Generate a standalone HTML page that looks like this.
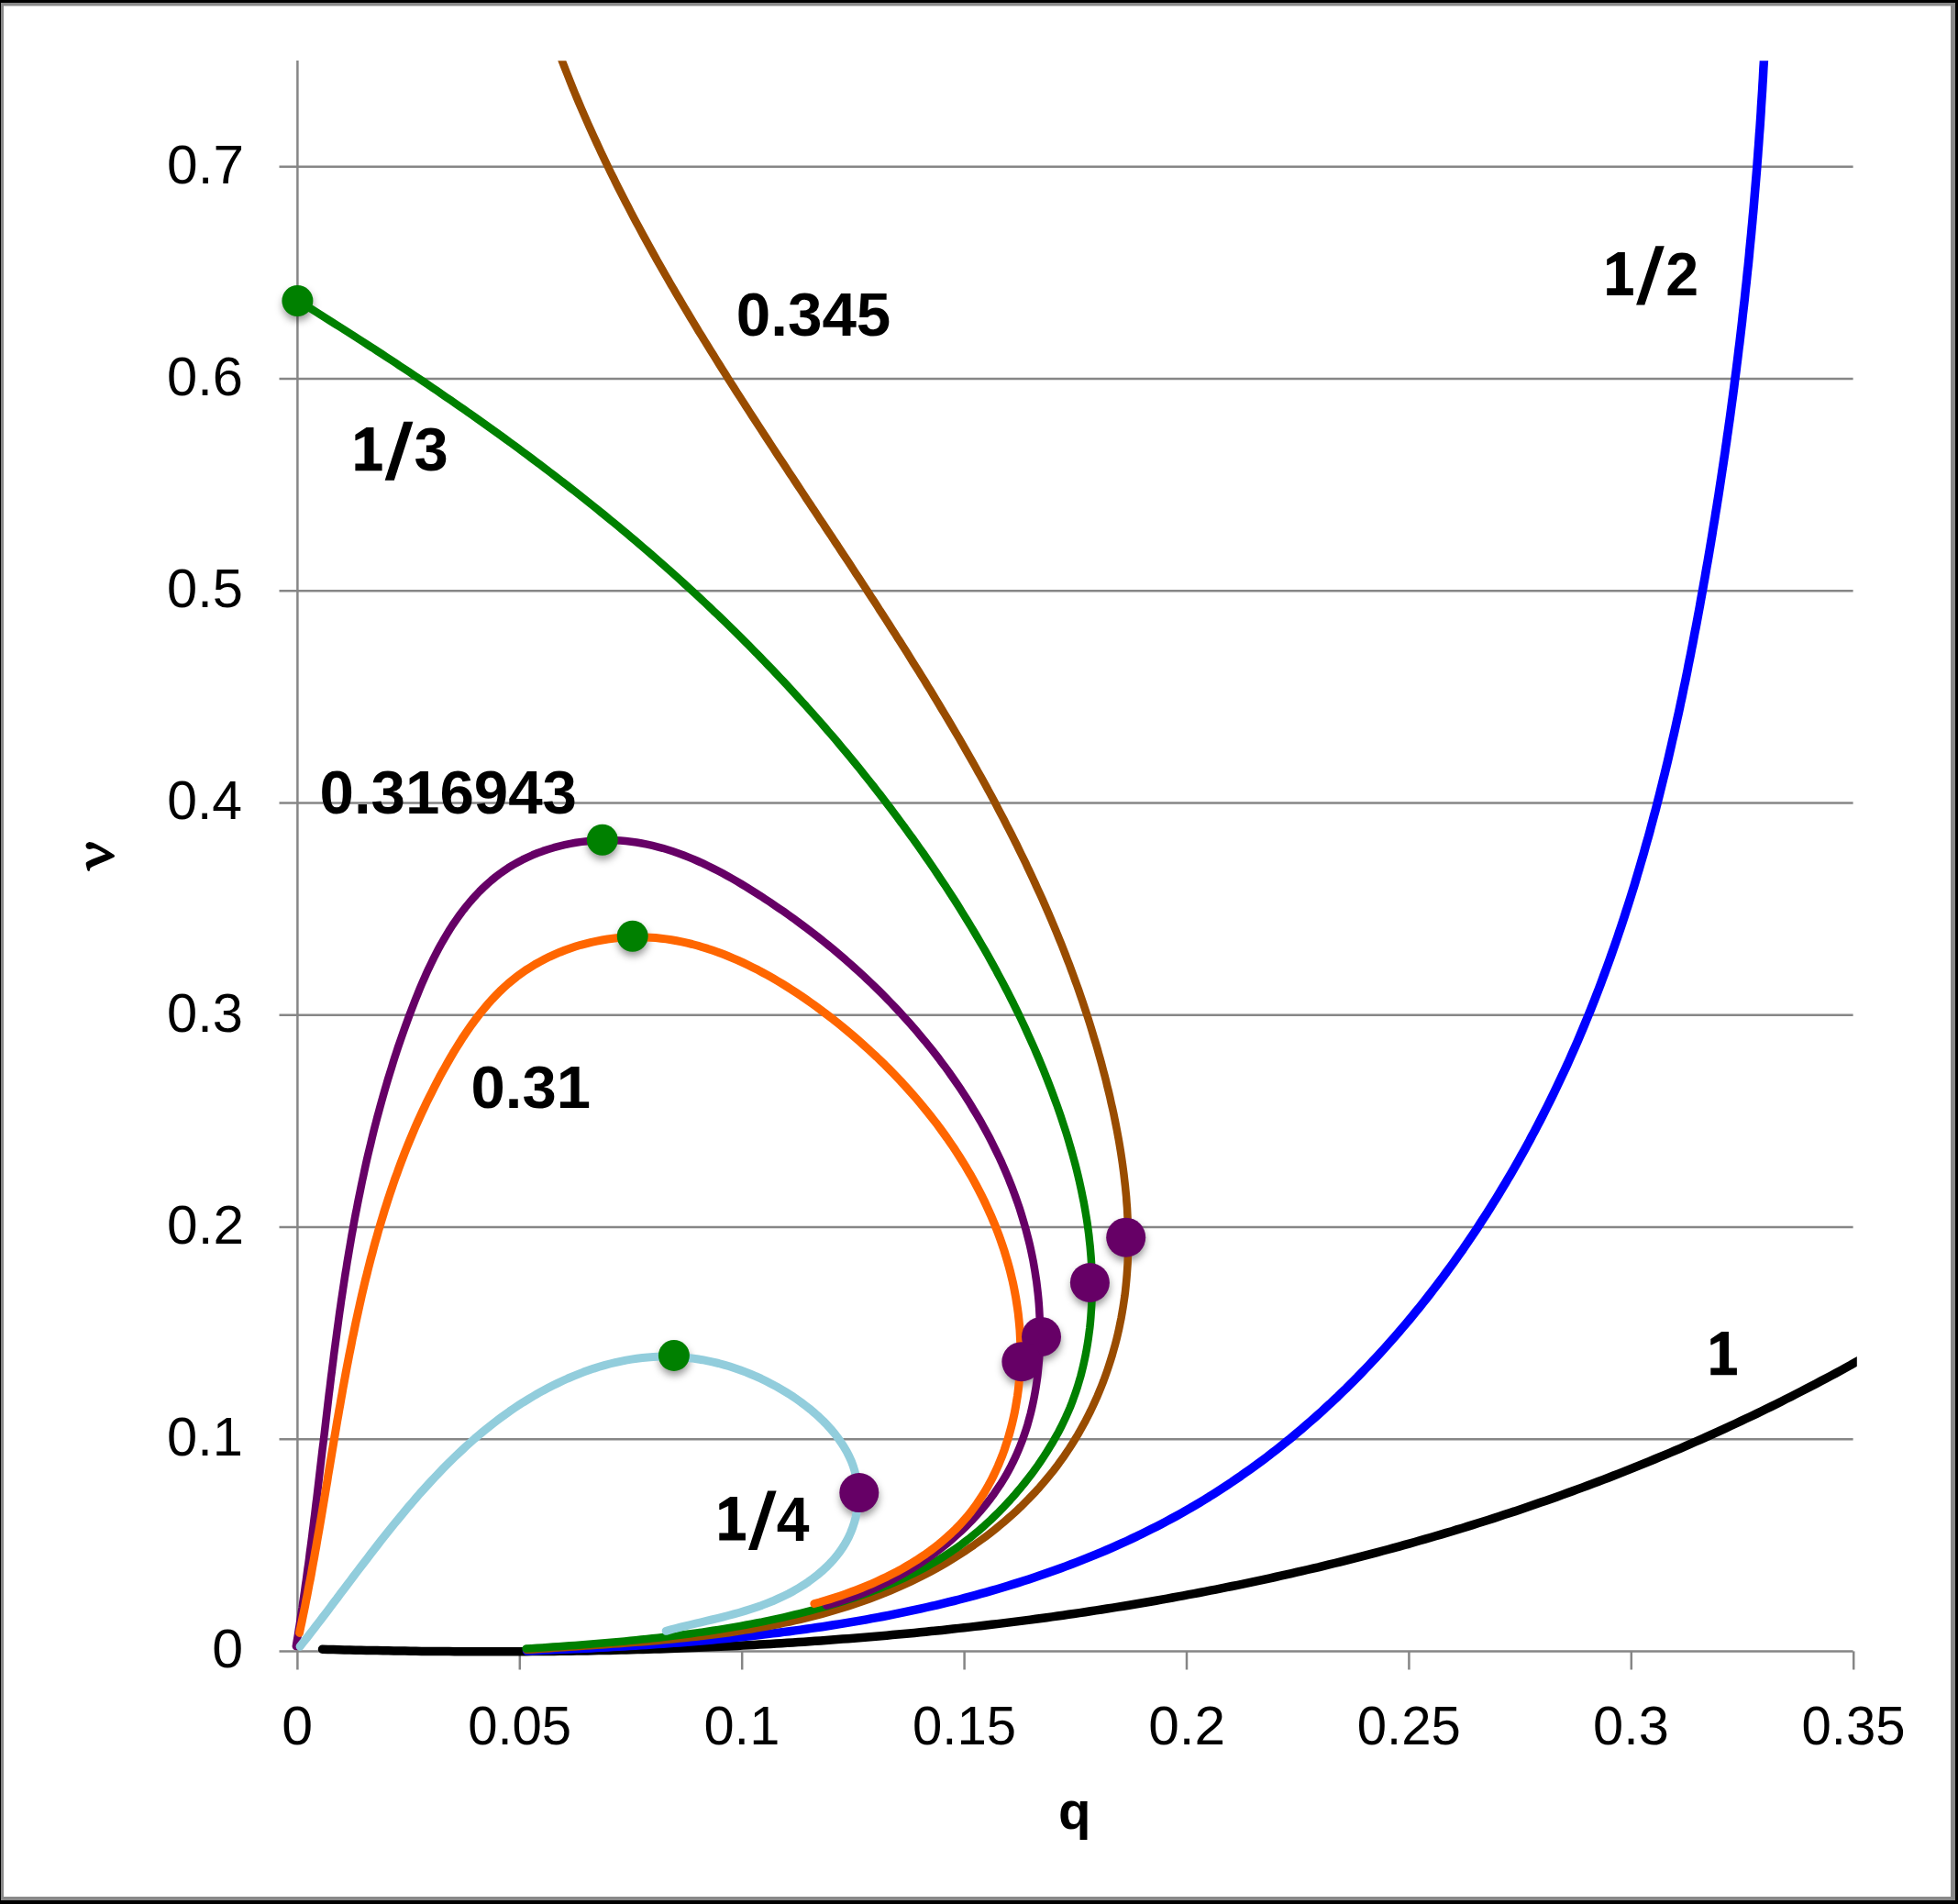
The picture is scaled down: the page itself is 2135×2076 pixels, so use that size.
<!DOCTYPE html><html><head><meta charset="utf-8"><style>html,body{margin:0;padding:0;background:#fff;width:2135px;height:2076px;overflow:hidden}svg{display:block}text{font-family:"Liberation Sans",sans-serif}</style></head><body>
<svg width="2135" height="2076" viewBox="0 0 2135 2076">
<defs><filter id="sh" x="-60%" y="-60%" width="220%" height="220%"><feGaussianBlur stdDeviation="4"/></filter><clipPath id="pc"><rect x="300" y="66.2" width="1724.8" height="1760"/></clipPath></defs>
<rect x="0" y="0" width="2135" height="2076" fill="#000"/>
<rect x="1" y="3" width="2131" height="2069" fill="#898989"/>
<rect x="4" y="6.5" width="2123" height="2061.5" fill="#fff"/>
<line x1="304.5" y1="1569.2" x2="2020.6" y2="1569.2" stroke="#868686" stroke-width="2.5"/>
<line x1="304.5" y1="1337.9" x2="2020.6" y2="1337.9" stroke="#868686" stroke-width="2.5"/>
<line x1="304.5" y1="1106.7" x2="2020.6" y2="1106.7" stroke="#868686" stroke-width="2.5"/>
<line x1="304.5" y1="875.4" x2="2020.6" y2="875.4" stroke="#868686" stroke-width="2.5"/>
<line x1="304.5" y1="644.2" x2="2020.6" y2="644.2" stroke="#868686" stroke-width="2.5"/>
<line x1="304.5" y1="413.0" x2="2020.6" y2="413.0" stroke="#868686" stroke-width="2.5"/>
<line x1="304.5" y1="181.7" x2="2020.6" y2="181.7" stroke="#868686" stroke-width="2.5"/>
<line x1="304.5" y1="1800.4" x2="2020.6" y2="1800.4" stroke="#868686" stroke-width="2.5"/>
<line x1="324.4" y1="66" x2="324.4" y2="1820.5" stroke="#868686" stroke-width="2.5"/>
<line x1="566.8" y1="1800.4" x2="566.8" y2="1820.5" stroke="#868686" stroke-width="2.5"/>
<line x1="809.2" y1="1800.4" x2="809.2" y2="1820.5" stroke="#868686" stroke-width="2.5"/>
<line x1="1051.6" y1="1800.4" x2="1051.6" y2="1820.5" stroke="#868686" stroke-width="2.5"/>
<line x1="1294.0" y1="1800.4" x2="1294.0" y2="1820.5" stroke="#868686" stroke-width="2.5"/>
<line x1="1536.4" y1="1800.4" x2="1536.4" y2="1820.5" stroke="#868686" stroke-width="2.5"/>
<line x1="1778.8" y1="1800.4" x2="1778.8" y2="1820.5" stroke="#868686" stroke-width="2.5"/>
<line x1="2021.2" y1="1800.4" x2="2021.2" y2="1820.5" stroke="#868686" stroke-width="2.5"/>
<text transform="translate(231.17 1818.32) scale(1.0138 0.9791)" x="0" y="0" font-size="60" fill="#000">0</text>
<text transform="translate(182.11 1587.08) scale(0.9937 0.9791)" x="0" y="0" font-size="60" fill="#000">0.1</text>
<text transform="translate(182.09 1355.84) scale(1.0064 0.9791)" x="0" y="0" font-size="60" fill="#000">0.2</text>
<text transform="translate(182.11 1124.60) scale(0.9937 0.9791)" x="0" y="0" font-size="60" fill="#000">0.3</text>
<text transform="translate(182.14 893.36) scale(0.9812 0.9791)" x="0" y="0" font-size="60" fill="#000">0.4</text>
<text transform="translate(182.11 662.12) scale(0.9937 0.9791)" x="0" y="0" font-size="60" fill="#000">0.5</text>
<text transform="translate(182.11 430.88) scale(0.9937 0.9791)" x="0" y="0" font-size="60" fill="#000">0.6</text>
<text transform="translate(182.09 199.64) scale(1.0064 0.9791)" x="0" y="0" font-size="60" fill="#000">0.7</text>
<text transform="translate(307.17 1902.32) scale(1.0138 0.9837)" x="0" y="0" font-size="60" fill="#000">0</text>
<text transform="translate(510.16 1902.32) scale(0.9679 0.9837)" x="0" y="0" font-size="60" fill="#000">0.05</text>
<text transform="translate(767.46 1902.32) scale(0.9937 0.9837)" x="0" y="0" font-size="60" fill="#000">0.1</text>
<text transform="translate(994.96 1902.32) scale(0.9679 0.9837)" x="0" y="0" font-size="60" fill="#000">0.15</text>
<text transform="translate(1252.24 1902.32) scale(1.0064 0.9837)" x="0" y="0" font-size="60" fill="#000">0.2</text>
<text transform="translate(1479.76 1902.32) scale(0.9679 0.9837)" x="0" y="0" font-size="60" fill="#000">0.25</text>
<text transform="translate(1737.06 1902.32) scale(0.9937 0.9837)" x="0" y="0" font-size="60" fill="#000">0.3</text>
<text transform="translate(1964.56 1902.32) scale(0.9679 0.9837)" x="0" y="0" font-size="60" fill="#000">0.35</text>
<text transform="translate(1154.03 1993.98) scale(0.8559 0.8373)" x="0" y="0" font-size="68" font-weight="bold" fill="#000">q</text>
<path d="M97.34 917.88 L101.28 918.80 L104.96 920.50 L108.63 922.61 L116.51 927.07 L124.39 932.06 L125.05 933.37 L124.52 934.55 L116.51 938.36 L108.63 941.51 L101.28 944.66 L98.66 946.24 L98.00 947.82 L97.87 949.13 L96.95 950.05 L95.50 949.13 L94.72 946.76 L93.67 942.30 L93.80 940.46 L96.03 938.89 L100.76 936.79 L108.63 933.63 L115.20 931.27 L111.26 928.91 L107.32 926.81 L104.43 925.49 L101.81 925.10 L97.61 925.89 L94.98 925.23 L93.67 923.13 L93.53 921.29 L94.72 919.19 Z" fill="#000"/>
<g filter="url(#sh)" fill="#000" fill-opacity="0.42">
<circle cx="324.9" cy="333.0" r="16.5"/>
<circle cx="657.3" cy="920.7" r="16.5"/>
<circle cx="690.2" cy="1025.8" r="16.5"/>
<circle cx="735.4" cy="1482.9" r="16.5"/>
<circle cx="1228.2" cy="1354.2" r="21"/>
<circle cx="1188.9" cy="1403.5" r="21"/>
<circle cx="1136.0" cy="1462.4" r="21"/>
<circle cx="1114.4" cy="1489.7" r="21"/>
<circle cx="937.3" cy="1632.6" r="21"/>
</g>
<g clip-path="url(#pc)">
<path d="M351.5 1798.3 L357.5 1798.5 L363.5 1798.6 L369.5 1798.7 L375.5 1798.9 L381.5 1799.0 L387.5 1799.2 L393.5 1799.3 L399.5 1799.4 L405.5 1799.5 L411.5 1799.6 L417.5 1799.7 L423.5 1799.8 L429.5 1799.9 L435.5 1800.0 L441.6 1800.1 L447.6 1800.2 L453.6 1800.3 L459.6 1800.4 L465.6 1800.4 L471.7 1800.5 L477.7 1800.5 L483.7 1800.6 L489.7 1800.6 L495.7 1800.7 L501.8 1800.7 L507.8 1800.7 L513.8 1800.8 L519.9 1800.8 L525.9 1800.8 L531.9 1800.8 L538.0 1800.8 L544.0 1800.8 L550.0 1800.8 L556.1 1800.8 L562.1 1800.7 L568.1 1800.7 L574.2 1800.7 L580.2 1800.6 L586.3 1800.6 L592.3 1800.5 L598.3 1800.5 L604.4 1800.4 L610.4 1800.3 L616.5 1800.3 L622.5 1800.2 L628.6 1800.1 L634.6 1800.0 L640.7 1799.9 L646.7 1799.8 L652.7 1799.6 L658.8 1799.5 L664.8 1799.4 L670.9 1799.3 L676.9 1799.1 L683.0 1799.0 L689.0 1798.8 L695.1 1798.6 L701.1 1798.5 L707.2 1798.3 L713.2 1798.1 L719.3 1797.9 L725.3 1797.7 L731.4 1797.5 L737.4 1797.3 L743.5 1797.0 L749.5 1796.8 L755.6 1796.6 L761.6 1796.3 L767.7 1796.1 L773.7 1795.8 L779.8 1795.5 L785.8 1795.3 L791.9 1795.0 L797.9 1794.7 L803.9 1794.4 L810.0 1794.1 L816.0 1793.8 L822.1 1793.4 L828.1 1793.1 L834.2 1792.8 L840.2 1792.4 L846.3 1792.1 L852.3 1791.7 L858.4 1791.3 L864.4 1790.9 L870.4 1790.6 L876.5 1790.2 L882.5 1789.8 L888.6 1789.3 L894.6 1788.9 L900.6 1788.5 L906.7 1788.0 L912.7 1787.6 L918.7 1787.1 L924.8 1786.7 L930.8 1786.2 L936.9 1785.7 L942.9 1785.2 L948.9 1784.7 L954.9 1784.2 L961.0 1783.7 L967.0 1783.2 L973.0 1782.6 L979.1 1782.1 L985.1 1781.5 L991.1 1781.0 L997.1 1780.4 L1003.2 1779.8 L1009.2 1779.2 L1015.2 1778.6 L1021.2 1778.0 L1027.2 1777.4 L1033.2 1776.7 L1039.3 1776.1 L1045.3 1775.4 L1051.3 1774.8 L1057.3 1774.1 L1063.3 1773.4 L1069.3 1772.7 L1075.3 1772.0 L1081.3 1771.3 L1087.3 1770.6 L1093.3 1769.9 L1099.3 1769.1 L1105.3 1768.4 L1111.3 1767.6 L1117.3 1766.9 L1123.3 1766.1 L1129.3 1765.3 L1135.3 1764.5 L1141.2 1763.7 L1147.2 1762.9 L1153.2 1762.0 L1159.2 1761.2 L1165.2 1760.3 L1171.1 1759.5 L1177.1 1758.6 L1183.1 1757.7 L1189.1 1756.8 L1195.0 1755.9 L1201.0 1755.0 L1207.0 1754.0 L1212.9 1753.1 L1218.9 1752.1 L1224.8 1751.2 L1230.8 1750.2 L1236.7 1749.2 L1242.7 1748.2 L1248.6 1747.2 L1254.6 1746.2 L1260.5 1745.2 L1266.5 1744.1 L1272.4 1743.1 L1278.3 1742.0 L1284.3 1740.9 L1290.2 1739.8 L1296.1 1738.7 L1302.1 1737.6 L1308.0 1736.5 L1313.9 1735.4 L1319.8 1734.2 L1325.7 1733.1 L1331.6 1731.9 L1337.5 1730.7 L1343.4 1729.5 L1349.4 1728.3 L1355.3 1727.1 L1361.1 1725.9 L1367.0 1724.6 L1372.9 1723.4 L1378.8 1722.1 L1384.7 1720.8 L1390.6 1719.5 L1396.5 1718.2 L1402.3 1716.9 L1408.2 1715.6 L1414.1 1714.2 L1419.9 1712.9 L1425.8 1711.5 L1431.7 1710.1 L1437.5 1708.8 L1443.4 1707.3 L1449.2 1705.9 L1455.1 1704.5 L1460.9 1703.1 L1466.8 1701.6 L1472.6 1700.1 L1478.4 1698.6 L1484.3 1697.1 L1490.1 1695.6 L1495.9 1694.1 L1501.7 1692.6 L1507.5 1691.0 L1513.3 1689.5 L1519.2 1687.9 L1525.0 1686.3 L1530.8 1684.7 L1536.6 1683.1 L1542.3 1681.5 L1548.1 1679.8 L1553.9 1678.2 L1559.7 1676.5 L1565.5 1674.8 L1571.3 1673.1 L1577.0 1671.4 L1582.8 1669.7 L1588.5 1667.9 L1594.3 1666.2 L1600.1 1664.4 L1605.8 1662.6 L1611.6 1660.8 L1617.3 1659.0 L1623.0 1657.2 L1628.8 1655.4 L1634.5 1653.5 L1640.2 1651.6 L1645.9 1649.7 L1651.6 1647.9 L1657.4 1645.9 L1663.1 1644.0 L1668.8 1642.1 L1674.5 1640.1 L1680.2 1638.1 L1685.8 1636.2 L1691.5 1634.2 L1697.2 1632.2 L1702.9 1630.1 L1708.6 1628.1 L1714.2 1626.0 L1719.9 1623.9 L1725.5 1621.9 L1731.2 1619.8 L1736.8 1617.6 L1742.5 1615.5 L1748.1 1613.4 L1753.8 1611.2 L1759.4 1609.0 L1765.0 1606.8 L1770.6 1604.6 L1776.2 1602.4 L1781.8 1600.1 L1787.4 1597.9 L1793.0 1595.6 L1798.6 1593.3 L1804.2 1591.0 L1809.8 1588.7 L1815.4 1586.4 L1821.0 1584.0 L1826.5 1581.6 L1832.1 1579.3 L1837.6 1576.9 L1843.2 1574.4 L1848.7 1572.0 L1854.3 1569.6 L1859.8 1567.1 L1865.3 1564.6 L1870.9 1562.1 L1876.4 1559.6 L1881.9 1557.1 L1887.4 1554.5 L1892.9 1552.0 L1898.4 1549.4 L1903.9 1546.8 L1909.4 1544.2 L1914.9 1541.6 L1920.3 1538.9 L1925.8 1536.2 L1931.3 1533.6 L1936.7 1530.9 L1942.2 1528.2 L1947.6 1525.4 L1953.1 1522.7 L1958.5 1519.9 L1963.9 1517.1 L1969.4 1514.3 L1974.8 1511.5 L1980.2 1508.7 L1985.6 1505.8 L1991.0 1503.0 L1996.4 1500.1 L2001.8 1497.2 L2007.1 1494.3 L2012.5 1491.3 L2017.9 1488.4 L2023.2 1485.4 L2028.6 1482.4 L2034.0 1479.4 L2039.3 1476.4 L2044.6 1473.4" fill="none" stroke="#000000" stroke-width="9.5" stroke-linecap="round" stroke-linejoin="round"/>
<path d="M574.5 1800.1 L580.4 1799.8 L586.2 1799.6 L592.1 1799.3 L598.0 1799.1 L603.9 1798.8 L609.7 1798.6 L615.6 1798.3 L621.5 1798.0 L627.4 1797.8 L633.4 1797.5 L639.3 1797.2 L645.2 1796.9 L651.1 1796.6 L657.1 1796.3 L663.0 1795.9 L669.0 1795.6 L674.9 1795.3 L680.9 1794.9 L686.8 1794.6 L692.8 1794.2 L698.7 1793.8 L704.7 1793.4 L710.7 1793.0 L716.7 1792.6 L722.6 1792.2 L728.6 1791.8 L734.6 1791.3 L740.6 1790.9 L746.6 1790.4 L752.6 1789.9 L758.6 1789.4 L764.6 1788.9 L770.6 1788.4 L776.6 1787.9 L782.6 1787.3 L788.6 1786.7 L794.6 1786.2 L800.6 1785.6 L806.6 1785.0 L812.6 1784.3 L818.6 1783.7 L824.6 1783.0 L830.6 1782.3 L836.7 1781.6 L842.7 1780.9 L848.7 1780.2 L854.7 1779.4 L860.7 1778.7 L866.7 1777.9 L872.7 1777.1 L878.7 1776.3 L884.7 1775.4 L890.8 1774.5 L896.8 1773.7 L902.8 1772.8 L908.8 1771.8 L914.8 1770.9 L920.8 1769.9 L926.8 1768.9 L932.8 1767.9 L938.8 1766.9 L944.7 1765.8 L950.7 1764.7 L956.7 1763.6 L962.7 1762.5 L968.7 1761.3 L974.6 1760.1 L980.6 1758.9 L986.6 1757.7 L992.5 1756.4 L998.5 1755.2 L1004.5 1753.9 L1010.4 1752.5 L1016.4 1751.2 L1022.3 1749.8 L1028.2 1748.4 L1034.1 1746.9 L1040.1 1745.5 L1046.0 1744.0 L1051.9 1742.4 L1057.8 1740.9 L1063.6 1739.3 L1069.5 1737.7 L1075.4 1736.1 L1081.2 1734.4 L1087.1 1732.7 L1092.9 1731.0 L1098.7 1729.2 L1104.6 1727.4 L1110.4 1725.6 L1116.1 1723.8 L1121.9 1721.9 L1127.7 1720.0 L1133.4 1718.1 L1139.2 1716.1 L1144.9 1714.1 L1150.6 1712.1 L1156.3 1710.0 L1162.0 1707.9 L1167.6 1705.8 L1173.3 1703.6 L1178.9 1701.4 L1184.5 1699.2 L1190.1 1696.9 L1195.7 1694.6 L1201.2 1692.3 L1206.8 1690.0 L1212.3 1687.6 L1217.8 1685.1 L1223.3 1682.7 L1228.8 1680.2 L1234.2 1677.6 L1239.6 1675.1 L1245.0 1672.4 L1250.4 1669.8 L1255.8 1667.1 L1261.1 1664.4 L1266.4 1661.7 L1271.7 1658.9 L1277.0 1656.0 L1282.2 1653.2 L1287.4 1650.3 L1292.6 1647.3 L1297.8 1644.4 L1303.0 1641.3 L1308.1 1638.3 L1313.2 1635.2 L1318.3 1632.1 L1323.3 1628.9 L1328.3 1625.7 L1333.3 1622.5 L1338.3 1619.2 L1343.3 1615.9 L1348.2 1612.5 L1353.1 1609.2 L1358.0 1605.7 L1362.8 1602.3 L1367.6 1598.8 L1372.4 1595.3 L1377.2 1591.8 L1382.0 1588.2 L1386.7 1584.5 L1391.4 1580.9 L1396.1 1577.2 L1400.7 1573.5 L1405.4 1569.8 L1410.0 1566.0 L1414.5 1562.2 L1419.1 1558.3 L1423.6 1554.4 L1428.1 1550.5 L1432.6 1546.6 L1437.1 1542.6 L1441.5 1538.7 L1445.9 1534.6 L1450.3 1530.6 L1454.6 1526.5 L1459.0 1522.4 L1463.3 1518.2 L1467.6 1514.1 L1471.8 1509.9 L1476.1 1505.6 L1480.3 1501.4 L1484.4 1497.1 L1488.6 1492.8 L1492.7 1488.5 L1496.8 1484.1 L1500.9 1479.7 L1505.0 1475.3 L1509.0 1470.9 L1513.0 1466.4 L1517.0 1461.9 L1521.0 1457.4 L1524.9 1452.9 L1528.8 1448.3 L1532.7 1443.7 L1536.6 1439.1 L1540.4 1434.5 L1544.2 1429.8 L1548.0 1425.2 L1551.8 1420.4 L1555.5 1415.7 L1559.2 1411.0 L1562.9 1406.2 L1566.6 1401.4 L1570.2 1396.6 L1573.8 1391.8 L1577.4 1386.9 L1581.0 1382.0 L1584.5 1377.2 L1588.0 1372.2 L1591.5 1367.3 L1595.0 1362.4 L1598.4 1357.4 L1601.8 1352.4 L1605.2 1347.4 L1608.6 1342.3 L1611.9 1337.3 L1615.2 1332.2 L1618.5 1327.2 L1621.8 1322.1 L1625.0 1316.9 L1628.2 1311.8 L1631.4 1306.7 L1634.6 1301.5 L1637.7 1296.3 L1640.9 1291.1 L1643.9 1285.9 L1647.0 1280.7 L1650.1 1275.4 L1653.1 1270.2 L1656.1 1264.9 L1659.0 1259.6 L1662.0 1254.3 L1664.9 1249.0 L1667.8 1243.7 L1670.6 1238.3 L1673.5 1233.0 L1676.3 1227.6 L1679.1 1222.2 L1681.9 1216.8 L1684.6 1211.4 L1687.3 1206.0 L1690.0 1200.6 L1692.7 1195.2 L1695.3 1189.7 L1697.9 1184.3 L1700.5 1178.8 L1703.1 1173.3 L1705.6 1167.9 L1708.2 1162.4 L1710.7 1156.9 L1713.1 1151.4 L1715.6 1145.8 L1718.0 1140.3 L1720.4 1134.8 L1722.8 1129.2 L1725.1 1123.7 L1727.4 1118.1 L1729.7 1112.5 L1732.0 1107.0 L1734.3 1101.4 L1736.5 1095.8 L1738.7 1090.2 L1740.9 1084.6 L1743.1 1078.9 L1745.2 1073.3 L1747.3 1067.7 L1749.4 1062.0 L1751.5 1056.4 L1753.6 1050.7 L1755.6 1045.1 L1757.6 1039.4 L1759.6 1033.7 L1761.6 1028.0 L1763.6 1022.3 L1765.5 1016.6 L1767.4 1010.9 L1769.3 1005.2 L1771.2 999.5 L1773.0 993.8 L1774.9 988.1 L1776.7 982.3 L1778.5 976.6 L1780.3 970.8 L1782.1 965.1 L1783.8 959.3 L1785.5 953.5 L1787.2 947.8 L1788.9 942.0 L1790.6 936.2 L1792.3 930.4 L1793.9 924.6 L1795.5 918.8 L1797.2 913.0 L1798.8 907.2 L1800.3 901.4 L1801.9 895.6 L1803.4 889.8 L1805.0 883.9 L1806.5 878.1 L1808.0 872.3 L1809.5 866.4 L1810.9 860.6 L1812.4 854.7 L1813.8 848.9 L1815.3 843.0 L1816.7 837.2 L1818.1 831.3 L1819.5 825.4 L1820.8 819.6 L1822.2 813.7 L1823.5 807.8 L1824.9 801.9 L1826.2 796.1 L1827.5 790.2 L1828.8 784.3 L1830.1 778.4 L1831.4 772.5 L1832.6 766.6 L1833.9 760.7 L1835.1 754.8 L1836.3 748.9 L1837.6 743.0 L1838.8 737.0 L1840.0 731.1 L1841.1 725.2 L1842.3 719.3 L1843.5 713.4 L1844.6 707.5 L1845.8 701.5 L1846.9 695.6 L1848.0 689.7 L1849.2 683.8 L1850.3 677.8 L1851.4 671.9 L1852.5 666.0 L1853.6 660.0 L1854.6 654.1 L1855.7 648.2 L1856.8 642.2 L1857.8 636.3 L1858.9 630.4 L1859.9 624.4 L1860.9 618.5 L1862.0 612.5 L1863.0 606.6 L1864.0 600.7 L1865.0 594.7 L1866.0 588.8 L1867.0 582.8 L1867.9 576.9 L1868.9 570.9 L1869.9 565.0 L1870.8 559.0 L1871.8 553.1 L1872.7 547.2 L1873.7 541.2 L1874.6 535.3 L1875.5 529.3 L1876.4 523.4 L1877.3 517.4 L1878.2 511.4 L1879.1 505.5 L1880.0 499.5 L1880.9 493.6 L1881.7 487.6 L1882.6 481.7 L1883.4 475.7 L1884.3 469.7 L1885.1 463.8 L1886.0 457.8 L1886.8 451.9 L1887.6 445.9 L1888.4 439.9 L1889.2 434.0 L1890.0 428.0 L1890.8 422.0 L1891.5 416.1 L1892.3 410.1 L1893.1 404.1 L1893.8 398.2 L1894.6 392.2 L1895.3 386.2 L1896.0 380.2 L1896.8 374.3 L1897.5 368.3 L1898.2 362.3 L1898.9 356.3 L1899.6 350.4 L1900.2 344.4 L1900.9 338.4 L1901.6 332.4 L1902.3 326.4 L1902.9 320.4 L1903.5 314.5 L1904.2 308.5 L1904.8 302.5 L1905.4 296.5 L1906.1 290.5 L1906.7 284.5 L1907.3 278.5 L1907.8 272.5 L1908.4 266.5 L1909.0 260.5 L1909.6 254.5 L1910.1 248.5 L1910.7 242.5 L1911.2 236.5 L1911.8 230.5 L1912.3 224.5 L1912.8 218.5 L1913.3 212.5 L1913.8 206.5 L1914.3 200.5 L1914.8 194.5 L1915.3 188.5 L1915.8 182.5 L1916.2 176.5 L1916.7 170.5 L1917.1 164.4 L1917.6 158.4 L1918.0 152.4 L1918.4 146.4 L1918.9 140.4 L1919.3 134.4 L1919.7 128.3 L1920.1 122.3 L1920.4 116.3 L1920.8 110.3 L1921.2 104.2 L1921.6 98.2 L1921.9 92.2 L1922.3 86.1 L1922.6 80.1 L1922.9 74.1 L1923.3 68.0 L1923.6 62.0 L1923.9 56.0 L1924.2 49.9" fill="none" stroke="#0000FF" stroke-width="9.5" stroke-linecap="round" stroke-linejoin="round"/>
<path d="M607.0 50.6 L609.1 56.2 L611.2 61.8 L613.3 67.5 L615.5 73.1 L617.7 78.7 L619.9 84.3 L622.1 89.8 L624.3 95.4 L626.6 101.0 L628.9 106.5 L631.2 112.0 L633.6 117.6 L636.0 123.1 L638.4 128.6 L640.8 134.1 L643.2 139.5 L645.7 145.0 L648.2 150.5 L650.7 155.9 L653.2 161.3 L655.7 166.8 L658.3 172.2 L660.9 177.6 L663.5 183.0 L666.1 188.4 L668.8 193.7 L671.4 199.1 L674.1 204.5 L676.8 209.8 L679.6 215.2 L682.3 220.5 L685.1 225.8 L687.8 231.1 L690.6 236.4 L693.4 241.7 L696.3 247.0 L699.1 252.3 L702.0 257.6 L704.9 262.9 L707.8 268.1 L710.7 273.4 L713.6 278.6 L716.5 283.9 L719.5 289.1 L722.5 294.3 L725.4 299.5 L728.4 304.7 L731.4 310.0 L734.5 315.1 L737.5 320.3 L740.6 325.5 L743.6 330.7 L746.7 335.9 L749.8 341.0 L752.9 346.2 L756.0 351.4 L759.1 356.5 L762.2 361.7 L765.4 366.8 L768.5 371.9 L771.7 377.1 L774.9 382.2 L778.1 387.3 L781.2 392.4 L784.5 397.6 L787.7 402.7 L790.9 407.8 L794.1 412.9 L797.3 418.0 L800.6 423.1 L803.8 428.2 L807.1 433.3 L810.3 438.3 L813.6 443.4 L816.9 448.5 L820.2 453.6 L823.5 458.6 L826.8 463.7 L830.1 468.8 L833.4 473.8 L836.7 478.9 L840.0 484.0 L843.3 489.0 L846.6 494.1 L849.9 499.1 L853.3 504.2 L856.6 509.2 L859.9 514.3 L863.3 519.3 L866.6 524.4 L869.9 529.4 L873.3 534.5 L876.6 539.5 L879.9 544.6 L883.3 549.6 L886.6 554.7 L890.0 559.7 L893.3 564.8 L896.7 569.8 L900.0 574.9 L903.3 579.9 L906.7 584.9 L910.0 590.0 L913.4 595.0 L916.7 600.1 L920.0 605.1 L923.4 610.2 L926.7 615.2 L930.0 620.3 L933.3 625.3 L936.7 630.4 L940.0 635.5 L943.3 640.5 L946.6 645.6 L949.9 650.7 L953.2 655.7 L956.5 660.8 L959.7 665.9 L963.0 670.9 L966.3 676.0 L969.6 681.1 L972.8 686.2 L976.1 691.3 L979.3 696.4 L982.6 701.4 L985.8 706.5 L989.0 711.6 L992.2 716.7 L995.4 721.9 L998.6 727.0 L1001.8 732.1 L1005.0 737.2 L1008.2 742.3 L1011.3 747.5 L1014.5 752.6 L1017.6 757.7 L1020.7 762.9 L1023.8 768.0 L1026.9 773.2 L1030.0 778.4 L1033.1 783.5 L1036.2 788.7 L1039.2 793.9 L1042.3 799.1 L1045.3 804.2 L1048.3 809.4 L1051.3 814.6 L1054.3 819.9 L1057.3 825.1 L1060.3 830.3 L1063.2 835.5 L1066.1 840.8 L1069.1 846.0 L1072.0 851.3 L1074.9 856.5 L1077.7 861.8 L1080.6 867.0 L1083.4 872.3 L1086.2 877.6 L1089.0 882.9 L1091.8 888.2 L1094.6 893.5 L1097.3 898.9 L1100.1 904.2 L1102.8 909.5 L1105.5 914.9 L1108.2 920.2 L1110.8 925.6 L1113.4 931.0 L1116.1 936.4 L1118.7 941.7 L1121.2 947.2 L1123.8 952.6 L1126.3 958.0 L1128.8 963.4 L1131.3 968.9 L1133.8 974.3 L1136.3 979.8 L1138.7 985.3 L1141.1 990.7 L1143.5 996.2 L1145.8 1001.7 L1148.2 1007.3 L1150.5 1012.8 L1152.8 1018.3 L1155.0 1023.9 L1157.3 1029.4 L1159.5 1035.0 L1161.7 1040.6 L1163.8 1046.2 L1166.0 1051.8 L1168.1 1057.4 L1170.2 1063.1 L1172.2 1068.7 L1174.3 1074.4 L1176.3 1080.0 L1178.2 1085.7 L1180.2 1091.4 L1182.1 1097.1 L1184.0 1102.9 L1185.9 1108.6 L1187.7 1114.3 L1189.5 1120.1 L1191.3 1125.9 L1193.0 1131.7 L1194.8 1137.5 L1196.5 1143.3 L1198.1 1149.1 L1199.8 1155.0 L1201.4 1160.8 L1202.9 1166.7 L1204.5 1172.6 L1206.0 1178.5 L1207.4 1184.4 L1208.9 1190.4 L1210.3 1196.3 L1211.6 1202.3 L1213.0 1208.3 L1214.3 1214.2 L1215.5 1220.2 L1216.7 1226.2 L1217.9 1232.3 L1219.0 1238.3 L1220.1 1244.3 L1221.1 1250.3 L1222.1 1256.4 L1223.0 1262.4 L1223.9 1268.5 L1224.7 1274.5 L1225.5 1280.6 L1226.2 1286.7 L1226.9 1292.7 L1227.5 1298.8 L1228.1 1304.8 L1228.5 1310.9 L1229.0 1317.0 L1229.3 1323.0 L1229.6 1329.1 L1229.9 1335.1 L1230.0 1341.2 L1230.1 1347.2 L1230.2 1353.3 L1230.1 1359.3 L1230.0 1365.3 L1229.8 1371.3 L1229.6 1377.4 L1229.2 1383.4 L1228.8 1389.3 L1228.3 1395.3 L1227.7 1401.3 L1227.1 1407.3 L1226.4 1413.2 L1225.5 1419.1 L1224.6 1425.1 L1223.6 1431.0 L1222.6 1436.8 L1221.4 1442.7 L1220.2 1448.6 L1218.9 1454.4 L1217.5 1460.2 L1216.0 1466.0 L1214.4 1471.7 L1212.8 1477.4 L1211.0 1483.1 L1209.2 1488.8 L1207.3 1494.5 L1205.3 1500.1 L1203.3 1505.6 L1201.1 1511.2 L1198.9 1516.7 L1196.6 1522.2 L1194.2 1527.6 L1191.7 1533.0 L1189.2 1538.3 L1186.5 1543.6 L1183.8 1548.9 L1181.0 1554.1 L1178.1 1559.3 L1175.2 1564.4 L1172.1 1569.5 L1169.0 1574.5 L1165.8 1579.5 L1162.5 1584.4 L1159.2 1589.3 L1155.7 1594.1 L1152.2 1598.9 L1148.6 1603.6 L1144.9 1608.2 L1141.1 1612.8 L1137.3 1617.3 L1133.4 1621.8 L1129.4 1626.2 L1125.3 1630.5 L1121.2 1634.8 L1117.0 1639.0 L1112.8 1643.2 L1108.4 1647.3 L1104.0 1651.3 L1099.5 1655.3 L1095.0 1659.2 L1090.4 1663.1 L1085.8 1666.9 L1081.1 1670.6 L1076.3 1674.3 L1071.5 1677.9 L1066.6 1681.4 L1061.7 1684.9 L1056.7 1688.3 L1051.7 1691.7 L1046.6 1695.0 L1041.5 1698.2 L1036.3 1701.4 L1031.1 1704.5 L1025.9 1707.5 L1020.6 1710.5 L1015.2 1713.4 L1009.9 1716.2 L1004.5 1719.0 L999.0 1721.7 L993.5 1724.4 L988.0 1727.0 L982.5 1729.5 L976.9 1731.9 L971.3 1734.3 L965.7 1736.6 L960.1 1738.9 L954.4 1741.1 L948.7 1743.2 L943.0 1745.3 L937.2 1747.3 L931.4 1749.3 L925.6 1751.2 L919.8 1753.0 L914.0 1754.8 L908.2 1756.5 L902.3 1758.2 L896.4 1759.8 L890.5 1761.4 L884.6 1762.9 L878.7 1764.4 L872.8 1765.8 L866.8 1767.1 L860.9 1768.5 L854.9 1769.7 L849.0 1771.0 L843.0 1772.2 L837.0 1773.3 L831.0 1774.4 L825.0 1775.4 L819.0 1776.5 L813.0 1777.4 L807.0 1778.4 L801.0 1779.3 L795.0 1780.2 L789.0 1781.0 L782.9 1781.8 L776.9 1782.6 L770.9 1783.3 L764.9 1784.0 L758.8 1784.7 L752.8 1785.4 L746.8 1786.0 L740.8 1786.6 L734.7 1787.2 L728.7 1787.8 L722.7 1788.3 L716.7 1788.9 L710.7 1789.4 L704.7 1789.9 L698.6 1790.4 L692.6 1790.8 L686.7 1791.3 L680.7 1791.7 L674.7 1792.2 L668.7 1792.6 L662.7 1793.0 L656.8 1793.4 L650.8 1793.8 L644.9 1794.2 L638.9 1794.6 L633.0 1795.0 L627.1 1795.4 L621.2 1795.8 L615.3 1796.2 L609.4 1796.6 L603.5 1797.0 L597.7 1797.4 L591.8 1797.8 L586.0 1798.3 L580.2 1798.7 L574.4 1799.1" fill="none" stroke="#994C00" stroke-width="8.5" stroke-linecap="round" stroke-linejoin="round"/>
<path d="M324.5 327.7 L329.7 330.8 L334.8 334.0 L339.9 337.2 L345.1 340.4 L350.2 343.6 L355.3 346.8 L360.4 350.1 L365.5 353.3 L370.6 356.5 L375.7 359.8 L380.8 363.0 L385.9 366.3 L390.9 369.5 L396.0 372.8 L401.1 376.1 L406.2 379.3 L411.2 382.6 L416.3 385.9 L421.3 389.2 L426.4 392.5 L431.4 395.8 L436.4 399.2 L441.5 402.5 L446.5 405.8 L451.5 409.2 L456.5 412.6 L461.5 415.9 L466.5 419.3 L471.5 422.7 L476.5 426.1 L481.4 429.5 L486.4 432.9 L491.4 436.3 L496.3 439.7 L501.3 443.2 L506.2 446.6 L511.1 450.1 L516.1 453.5 L521.0 457.0 L525.9 460.5 L530.8 464.0 L535.7 467.5 L540.6 471.0 L545.5 474.5 L550.3 478.0 L555.2 481.6 L560.1 485.1 L564.9 488.7 L569.8 492.3 L574.6 495.9 L579.4 499.5 L584.2 503.1 L589.0 506.7 L593.8 510.3 L598.6 514.0 L603.4 517.6 L608.2 521.3 L612.9 525.0 L617.7 528.6 L622.4 532.3 L627.2 536.0 L631.9 539.8 L636.6 543.5 L641.3 547.3 L646.0 551.0 L650.7 554.8 L655.4 558.6 L660.1 562.4 L664.7 566.2 L669.4 570.0 L674.0 573.8 L678.7 577.7 L683.3 581.5 L687.9 585.4 L692.5 589.3 L697.1 593.2 L701.6 597.1 L706.2 601.0 L710.8 605.0 L715.3 608.9 L719.8 612.9 L724.4 616.9 L728.9 620.9 L733.4 624.9 L737.9 628.9 L742.3 632.9 L746.8 637.0 L751.3 641.1 L755.7 645.1 L760.1 649.2 L764.6 653.4 L769.0 657.5 L773.4 661.6 L777.7 665.8 L782.1 669.9 L786.5 674.1 L790.8 678.3 L795.1 682.5 L799.5 686.8 L803.8 691.0 L808.1 695.3 L812.3 699.5 L816.6 703.8 L820.8 708.1 L825.1 712.4 L829.3 716.8 L833.5 721.1 L837.7 725.5 L841.9 729.8 L846.1 734.2 L850.2 738.6 L854.4 743.0 L858.5 747.4 L862.6 751.9 L866.7 756.3 L870.8 760.8 L874.8 765.3 L878.9 769.7 L882.9 774.2 L886.9 778.8 L890.9 783.3 L894.9 787.8 L898.9 792.4 L902.8 797.0 L906.8 801.5 L910.7 806.1 L914.6 810.8 L918.5 815.4 L922.4 820.0 L926.2 824.7 L930.0 829.3 L933.9 834.0 L937.7 838.7 L941.4 843.4 L945.2 848.1 L949.0 852.8 L952.7 857.5 L956.4 862.3 L960.1 867.0 L963.8 871.8 L967.4 876.6 L971.1 881.4 L974.7 886.2 L978.3 891.0 L981.9 895.9 L985.5 900.7 L989.0 905.6 L992.5 910.4 L996.1 915.3 L999.5 920.2 L1003.0 925.1 L1006.5 930.0 L1009.9 935.0 L1013.3 939.9 L1016.7 944.9 L1020.1 949.8 L1023.4 954.8 L1026.7 959.8 L1030.1 964.8 L1033.3 969.8 L1036.6 974.8 L1039.9 979.9 L1043.1 984.9 L1046.3 990.0 L1049.4 995.1 L1052.6 1000.2 L1055.7 1005.3 L1058.8 1010.4 L1061.9 1015.5 L1065.0 1020.7 L1068.0 1025.8 L1071.0 1031.0 L1074.0 1036.2 L1077.0 1041.4 L1079.9 1046.6 L1082.8 1051.9 L1085.7 1057.1 L1088.5 1062.4 L1091.4 1067.7 L1094.2 1073.0 L1096.9 1078.3 L1099.7 1083.6 L1102.4 1089.0 L1105.1 1094.3 L1107.7 1099.7 L1110.4 1105.1 L1113.0 1110.5 L1115.6 1116.0 L1118.1 1121.4 L1120.6 1126.9 L1123.1 1132.4 L1125.6 1137.9 L1128.0 1143.4 L1130.4 1149.0 L1132.8 1154.5 L1135.1 1160.1 L1137.4 1165.7 L1139.7 1171.3 L1141.9 1176.9 L1144.1 1182.6 L1146.3 1188.3 L1148.4 1194.0 L1150.5 1199.7 L1152.6 1205.4 L1154.6 1211.1 L1156.6 1216.9 L1158.5 1222.7 L1160.4 1228.5 L1162.3 1234.3 L1164.1 1240.1 L1165.8 1245.9 L1167.5 1251.8 L1169.2 1257.6 L1170.8 1263.5 L1172.4 1269.3 L1173.9 1275.2 L1175.3 1281.1 L1176.7 1287.0 L1178.0 1292.9 L1179.3 1298.9 L1180.5 1304.8 L1181.7 1310.7 L1182.8 1316.7 L1183.8 1322.6 L1184.8 1328.6 L1185.7 1334.5 L1186.5 1340.5 L1187.3 1346.5 L1187.9 1352.4 L1188.6 1358.4 L1189.1 1364.4 L1189.6 1370.3 L1190.0 1376.3 L1190.3 1382.3 L1190.5 1388.3 L1190.7 1394.2 L1190.7 1400.2 L1190.7 1406.2 L1190.6 1412.1 L1190.5 1418.1 L1190.2 1424.1 L1189.8 1430.0 L1189.4 1436.0 L1188.9 1441.9 L1188.3 1447.8 L1187.5 1453.8 L1186.7 1459.7 L1185.8 1465.6 L1184.8 1471.5 L1183.7 1477.4 L1182.5 1483.2 L1181.2 1489.0 L1179.8 1494.8 L1178.3 1500.6 L1176.6 1506.4 L1174.9 1512.1 L1173.0 1517.8 L1171.0 1523.4 L1169.0 1529.0 L1166.8 1534.6 L1164.4 1540.1 L1162.0 1545.5 L1159.4 1551.0 L1156.8 1556.3 L1154.0 1561.7 L1151.1 1566.9 L1148.1 1572.2 L1145.0 1577.3 L1141.8 1582.5 L1138.6 1587.5 L1135.2 1592.6 L1131.8 1597.6 L1128.3 1602.5 L1124.7 1607.4 L1121.0 1612.2 L1117.2 1617.0 L1113.4 1621.7 L1109.5 1626.3 L1105.6 1630.9 L1101.5 1635.5 L1097.4 1639.9 L1093.3 1644.3 L1089.0 1648.7 L1084.7 1652.9 L1080.4 1657.1 L1075.9 1661.2 L1071.4 1665.3 L1066.9 1669.2 L1062.2 1673.1 L1057.6 1676.9 L1052.8 1680.5 L1048.0 1684.2 L1043.1 1687.7 L1038.2 1691.1 L1033.2 1694.4 L1028.2 1697.6 L1023.1 1700.8 L1018.0 1703.8 L1012.8 1706.8 L1007.6 1709.7 L1002.3 1712.5 L996.9 1715.2 L991.6 1717.8 L986.2 1720.4 L980.7 1722.9 L975.2 1725.3 L969.7 1727.7 L964.2 1729.9 L958.6 1732.2 L953.0 1734.3 L947.4 1736.4 L941.7 1738.5 L936.0 1740.4 L930.3 1742.4 L924.6 1744.2 L918.8 1746.1 L913.1 1747.9 L907.3 1749.6 L901.5 1751.3 L895.7 1752.9 L889.9 1754.5 L884.0 1756.1 L878.2 1757.6 L872.4 1759.1 L866.5 1760.5 L860.6 1761.9 L854.7 1763.3 L848.8 1764.6 L842.9 1765.9 L837.0 1767.1 L831.1 1768.4 L825.1 1769.5 L819.2 1770.7 L813.2 1771.8 L807.3 1772.9 L801.3 1773.9 L795.3 1774.9 L789.4 1775.9 L783.4 1776.9 L777.4 1777.8 L771.4 1778.7 L765.4 1779.6 L759.4 1780.4 L753.4 1781.2 L747.4 1782.0 L741.4 1782.8 L735.4 1783.6 L729.3 1784.3 L723.3 1785.0 L717.3 1785.7 L711.3 1786.3 L705.3 1787.0 L699.2 1787.6 L693.2 1788.2 L687.2 1788.8 L681.2 1789.4 L675.2 1789.9 L669.2 1790.4 L663.1 1791.0 L657.1 1791.5 L651.1 1792.0 L645.1 1792.5 L639.1 1792.9 L633.1 1793.4 L627.2 1793.9 L621.2 1794.3 L615.2 1794.7 L609.2 1795.2 L603.3 1795.6 L597.3 1796.0 L591.4 1796.4 L585.4 1796.8 L579.5 1797.2 L573.6 1797.6" fill="none" stroke="#008000" stroke-width="8.5" stroke-linecap="round" stroke-linejoin="round"/>
<path d="M322.8 1795.0 L323.8 1789.0 L324.8 1783.1 L325.7 1777.1 L326.7 1771.1 L327.6 1765.1 L328.5 1759.1 L329.5 1753.1 L330.3 1747.1 L331.2 1741.1 L332.1 1735.1 L332.9 1729.1 L333.8 1723.1 L334.6 1717.1 L335.4 1711.1 L336.3 1705.1 L337.1 1699.1 L337.8 1693.1 L338.6 1687.2 L339.4 1681.2 L340.2 1675.2 L340.9 1669.2 L341.7 1663.2 L342.4 1657.2 L343.2 1651.2 L343.9 1645.2 L344.6 1639.2 L345.4 1633.2 L346.1 1627.2 L346.8 1621.2 L347.5 1615.2 L348.2 1609.3 L348.9 1603.3 L349.6 1597.3 L350.3 1591.3 L351.0 1585.3 L351.7 1579.3 L352.5 1573.3 L353.2 1567.3 L353.9 1561.4 L354.6 1555.4 L355.3 1549.4 L356.0 1543.4 L356.7 1537.4 L357.4 1531.5 L358.1 1525.5 L358.8 1519.5 L359.6 1513.5 L360.3 1507.6 L361.0 1501.6 L361.8 1495.6 L362.5 1489.7 L363.3 1483.7 L364.0 1477.7 L364.8 1471.8 L365.6 1465.8 L366.4 1459.9 L367.2 1453.9 L368.0 1447.9 L368.8 1442.0 L369.6 1436.0 L370.4 1430.1 L371.3 1424.1 L372.1 1418.2 L373.0 1412.3 L373.9 1406.3 L374.8 1400.4 L375.7 1394.4 L376.6 1388.5 L377.6 1382.6 L378.5 1376.6 L379.5 1370.7 L380.5 1364.8 L381.5 1358.9 L382.5 1353.0 L383.5 1347.0 L384.6 1341.1 L385.6 1335.2 L386.7 1329.3 L387.8 1323.4 L389.0 1317.5 L390.1 1311.6 L391.3 1305.7 L392.5 1299.8 L393.7 1293.9 L394.9 1288.0 L396.2 1282.1 L397.4 1276.3 L398.7 1270.4 L400.0 1264.5 L401.4 1258.6 L402.8 1252.8 L404.2 1246.9 L405.6 1241.0 L407.0 1235.2 L408.5 1229.3 L410.0 1223.5 L411.5 1217.6 L413.1 1211.8 L414.7 1205.9 L416.3 1200.1 L417.9 1194.3 L419.6 1188.4 L421.3 1182.6 L423.0 1176.8 L424.8 1171.0 L426.6 1165.2 L428.4 1159.3 L430.2 1153.5 L432.1 1147.7 L434.0 1141.9 L436.0 1136.1 L438.0 1130.4 L440.0 1124.6 L442.1 1118.8 L444.2 1113.0 L446.3 1107.2 L448.5 1101.5 L450.7 1095.7 L452.9 1090.0 L455.2 1084.3 L457.5 1078.6 L459.9 1072.9 L462.4 1067.2 L464.9 1061.6 L467.4 1056.1 L470.1 1050.5 L472.7 1045.1 L475.5 1039.6 L478.3 1034.3 L481.2 1029.0 L484.2 1023.8 L487.3 1018.6 L490.4 1013.5 L493.6 1008.5 L497.0 1003.6 L500.4 998.8 L503.9 994.0 L507.5 989.4 L511.2 984.9 L515.0 980.4 L518.9 976.1 L522.9 971.9 L527.0 967.9 L531.3 963.9 L535.6 960.1 L540.1 956.4 L544.7 952.9 L549.5 949.5 L554.3 946.2 L559.3 943.1 L564.5 940.2 L569.7 937.4 L575.1 934.8 L580.7 932.3 L586.3 930.0 L592.1 927.9 L597.9 926.0 L603.8 924.2 L609.8 922.6 L615.8 921.2 L621.9 919.9 L628.0 918.8 L634.2 917.9 L640.3 917.2 L646.4 916.6 L652.5 916.3 L658.6 916.1 L664.6 916.1 L670.6 916.2 L676.5 916.6 L682.4 917.1 L688.3 917.7 L694.1 918.5 L699.8 919.5 L705.6 920.6 L711.3 921.9 L716.9 923.3 L722.6 924.8 L728.2 926.5 L733.7 928.3 L739.3 930.2 L744.8 932.2 L750.2 934.4 L755.7 936.6 L761.1 939.0 L766.5 941.4 L771.8 944.0 L777.1 946.6 L782.4 949.3 L787.7 952.1 L793.0 955.0 L798.2 957.9 L803.4 960.9 L808.6 964.0 L813.8 967.1 L818.9 970.3 L824.1 973.6 L829.2 976.8 L834.3 980.2 L839.4 983.5 L844.4 986.9 L849.5 990.4 L854.5 993.8 L859.5 997.4 L864.5 1000.9 L869.5 1004.6 L874.4 1008.2 L879.3 1011.9 L884.2 1015.6 L889.1 1019.4 L893.9 1023.2 L898.7 1027.0 L903.5 1030.9 L908.3 1034.8 L913.0 1038.8 L917.7 1042.8 L922.4 1046.8 L927.0 1050.9 L931.6 1055.0 L936.2 1059.2 L940.8 1063.3 L945.3 1067.6 L949.7 1071.8 L954.2 1076.1 L958.6 1080.4 L963.0 1084.8 L967.3 1089.2 L971.6 1093.6 L975.8 1098.0 L980.0 1102.5 L984.2 1107.1 L988.3 1111.6 L992.4 1116.2 L996.5 1120.8 L1000.5 1125.5 L1004.4 1130.2 L1008.4 1134.9 L1012.2 1139.6 L1016.1 1144.4 L1019.8 1149.2 L1023.6 1154.0 L1027.2 1158.9 L1030.9 1163.8 L1034.5 1168.7 L1038.0 1173.7 L1041.5 1178.7 L1044.9 1183.7 L1048.3 1188.7 L1051.6 1193.8 L1054.9 1198.9 L1058.1 1204.0 L1061.2 1209.2 L1064.3 1214.3 L1067.4 1219.5 L1070.4 1224.7 L1073.3 1230.0 L1076.2 1235.3 L1079.0 1240.6 L1081.7 1245.9 L1084.4 1251.3 L1087.0 1256.6 L1089.6 1262.0 L1092.1 1267.4 L1094.5 1272.9 L1096.9 1278.4 L1099.2 1283.8 L1101.4 1289.4 L1103.6 1294.9 L1105.7 1300.4 L1107.7 1306.0 L1109.7 1311.6 L1111.6 1317.2 L1113.4 1322.9 L1115.1 1328.5 L1116.8 1334.2 L1118.4 1339.9 L1119.9 1345.6 L1121.4 1351.4 L1122.8 1357.1 L1124.1 1362.9 L1125.3 1368.7 L1126.5 1374.5 L1127.5 1380.3 L1128.5 1386.1 L1129.4 1392.0 L1130.3 1397.9 L1131.0 1403.8 L1131.7 1409.7 L1132.3 1415.6 L1132.8 1421.5 L1133.2 1427.5 L1133.5 1433.4 L1133.8 1439.4 L1134.0 1445.4 L1134.0 1451.4 L1134.0 1457.5 L1133.9 1463.5 L1133.7 1469.5 L1133.5 1475.6 L1133.1 1481.6 L1132.6 1487.7 L1132.0 1493.7 L1131.4 1499.8 L1130.6 1505.8 L1129.7 1511.8 L1128.7 1517.8 L1127.6 1523.8 L1126.4 1529.7 L1125.1 1535.6 L1123.7 1541.5 L1122.1 1547.4 L1120.5 1553.2 L1118.7 1559.0 L1116.8 1564.7 L1114.8 1570.4 L1112.6 1576.0 L1110.3 1581.6 L1107.9 1587.1 L1105.4 1592.5 L1102.7 1597.9 L1099.9 1603.2 L1097.0 1608.5 L1093.9 1613.6 L1090.7 1618.7 L1087.3 1623.7 L1083.9 1628.7 L1080.3 1633.6 L1076.6 1638.3 L1072.8 1643.1 L1068.9 1647.7 L1064.9 1652.2 L1060.8 1656.7 L1056.5 1661.1 L1052.2 1665.4 L1047.8 1669.6 L1043.3 1673.7 L1038.7 1677.8 L1034.1 1681.8 L1029.3 1685.6 L1024.5 1689.4 L1019.6 1693.1 L1014.7 1696.8 L1009.6 1700.3 L1004.6 1703.7 L999.4 1707.1 L994.2 1710.3 L989.0 1713.5 L983.7 1716.5 L978.4 1719.5 L973.0 1722.4 L967.6 1725.1 L962.1 1727.8 L956.7 1730.4 L951.2 1732.9 L945.6 1735.2 L940.1 1737.5 L934.6 1739.7 L929.0 1741.8 L923.4 1743.7 L917.8 1745.6 L912.2 1747.4 L906.7 1749.0 L901.1 1750.6" fill="none" stroke="#660066" stroke-width="8.5" stroke-linecap="round" stroke-linejoin="round"/>
<path d="M326.5 1780.4 L327.7 1774.6 L329.0 1768.8 L330.2 1762.9 L331.4 1757.1 L332.6 1751.3 L333.7 1745.4 L334.9 1739.6 L336.0 1733.7 L337.1 1727.8 L338.3 1722.0 L339.4 1716.1 L340.4 1710.2 L341.5 1704.3 L342.6 1698.4 L343.6 1692.5 L344.7 1686.6 L345.7 1680.6 L346.7 1674.7 L347.8 1668.8 L348.8 1662.8 L349.8 1656.9 L350.8 1650.9 L351.8 1645.0 L352.8 1639.0 L353.8 1633.1 L354.8 1627.1 L355.8 1621.1 L356.8 1615.2 L357.7 1609.2 L358.7 1603.2 L359.7 1597.2 L360.7 1591.3 L361.7 1585.3 L362.7 1579.3 L363.7 1573.3 L364.7 1567.3 L365.7 1561.4 L366.7 1555.4 L367.7 1549.4 L368.8 1543.4 L369.8 1537.4 L370.9 1531.5 L371.9 1525.5 L373.0 1519.5 L374.0 1513.5 L375.1 1507.6 L376.2 1501.6 L377.3 1495.6 L378.4 1489.7 L379.6 1483.7 L380.7 1477.7 L381.9 1471.8 L383.1 1465.8 L384.2 1459.9 L385.5 1454.0 L386.7 1448.0 L387.9 1442.1 L389.2 1436.2 L390.5 1430.3 L391.8 1424.4 L393.1 1418.5 L394.4 1412.6 L395.8 1406.7 L397.2 1400.8 L398.6 1394.9 L400.1 1389.1 L401.5 1383.2 L403.0 1377.3 L404.5 1371.5 L406.1 1365.7 L407.6 1359.8 L409.2 1354.0 L410.9 1348.2 L412.5 1342.4 L414.2 1336.7 L415.9 1330.9 L417.7 1325.1 L419.4 1319.4 L421.3 1313.6 L423.1 1307.9 L425.0 1302.2 L426.9 1296.5 L428.8 1290.8 L430.8 1285.1 L432.9 1279.5 L434.9 1273.8 L437.0 1268.2 L439.1 1262.6 L441.3 1256.9 L443.5 1251.4 L445.8 1245.8 L448.1 1240.2 L450.4 1234.7 L452.8 1229.1 L455.2 1223.6 L457.7 1218.1 L460.2 1212.6 L462.8 1207.2 L465.4 1201.7 L468.1 1196.3 L470.8 1190.9 L473.5 1185.5 L476.3 1180.1 L479.1 1174.7 L482.0 1169.4 L485.0 1164.1 L488.0 1158.8 L491.0 1153.5 L494.1 1148.2 L497.3 1143.0 L500.5 1137.8 L503.8 1132.6 L507.2 1127.5 L510.6 1122.5 L514.1 1117.5 L517.7 1112.6 L521.4 1107.7 L525.1 1103.0 L529.0 1098.3 L532.9 1093.7 L536.9 1089.3 L541.1 1084.9 L545.3 1080.6 L549.7 1076.5 L554.1 1072.5 L558.7 1068.7 L563.4 1064.9 L568.3 1061.4 L573.2 1057.9 L578.3 1054.7 L583.4 1051.5 L588.7 1048.6 L594.0 1045.8 L599.4 1043.1 L604.9 1040.6 L610.5 1038.2 L616.1 1036.0 L621.8 1034.0 L627.5 1032.1 L633.3 1030.3 L639.1 1028.8 L644.9 1027.3 L650.8 1026.1 L656.6 1025.0 L662.5 1024.0 L668.4 1023.2 L674.2 1022.6 L680.1 1022.2 L685.9 1021.9 L691.7 1021.7 L697.6 1021.7 L703.4 1021.9 L709.1 1022.2 L714.9 1022.6 L720.7 1023.2 L726.4 1023.9 L732.1 1024.8 L737.8 1025.8 L743.5 1026.9 L749.2 1028.2 L754.8 1029.5 L760.5 1031.0 L766.1 1032.7 L771.7 1034.4 L777.3 1036.3 L782.8 1038.2 L788.4 1040.3 L793.9 1042.5 L799.4 1044.8 L804.8 1047.1 L810.3 1049.6 L815.7 1052.2 L821.1 1054.9 L826.5 1057.6 L831.8 1060.5 L837.2 1063.4 L842.5 1066.4 L847.7 1069.5 L853.0 1072.7 L858.2 1075.9 L863.4 1079.2 L868.5 1082.6 L873.7 1086.0 L878.8 1089.5 L883.9 1093.1 L888.9 1096.7 L893.9 1100.4 L898.9 1104.1 L903.8 1107.9 L908.8 1111.7 L913.6 1115.6 L918.5 1119.5 L923.3 1123.5 L928.1 1127.5 L932.8 1131.5 L937.5 1135.6 L942.2 1139.8 L946.8 1144.0 L951.4 1148.2 L955.9 1152.4 L960.4 1156.8 L964.9 1161.1 L969.3 1165.5 L973.6 1169.9 L977.9 1174.4 L982.2 1178.9 L986.4 1183.5 L990.6 1188.1 L994.7 1192.7 L998.8 1197.4 L1002.8 1202.1 L1006.7 1206.8 L1010.6 1211.6 L1014.4 1216.4 L1018.2 1221.2 L1022.0 1226.1 L1025.6 1231.0 L1029.2 1236.0 L1032.8 1241.0 L1036.2 1246.0 L1039.7 1251.0 L1043.0 1256.1 L1046.3 1261.2 L1049.5 1266.3 L1052.7 1271.5 L1055.7 1276.7 L1058.8 1281.9 L1061.7 1287.2 L1064.6 1292.5 L1067.4 1297.8 L1070.1 1303.1 L1072.8 1308.5 L1075.3 1313.9 L1077.8 1319.3 L1080.3 1324.8 L1082.6 1330.2 L1084.9 1335.7 L1087.1 1341.3 L1089.2 1346.8 L1091.2 1352.4 L1093.1 1358.0 L1095.0 1363.6 L1096.7 1369.2 L1098.4 1374.9 L1100.0 1380.5 L1101.5 1386.2 L1102.9 1392.0 L1104.3 1397.7 L1105.5 1403.4 L1106.6 1409.2 L1107.7 1415.0 L1108.6 1420.8 L1109.5 1426.6 L1110.3 1432.5 L1110.9 1438.3 L1111.5 1444.2 L1112.0 1450.1 L1112.3 1456.0 L1112.6 1461.9 L1112.8 1467.9 L1112.8 1473.8 L1112.8 1479.7 L1112.6 1485.7 L1112.4 1491.7 L1112.0 1497.7 L1111.5 1503.7 L1110.9 1509.7 L1110.3 1515.7 L1109.5 1521.7 L1108.5 1527.8 L1107.5 1533.8 L1106.4 1539.8 L1105.1 1545.7 L1103.7 1551.7 L1102.2 1557.6 L1100.6 1563.5 L1098.9 1569.4 L1097.0 1575.2 L1095.1 1581.0 L1093.0 1586.7 L1090.7 1592.4 L1088.4 1598.0 L1085.9 1603.5 L1083.3 1609.0 L1080.6 1614.4 L1077.7 1619.7 L1074.7 1624.9 L1071.6 1630.1 L1068.3 1635.1 L1064.9 1640.1 L1061.4 1644.9 L1057.8 1649.7 L1054.0 1654.3 L1050.0 1658.8 L1046.0 1663.2 L1041.8 1667.5 L1037.5 1671.6 L1033.0 1675.7 L1028.5 1679.6 L1023.9 1683.5 L1019.1 1687.2 L1014.3 1690.9 L1009.4 1694.4 L1004.3 1697.8 L999.3 1701.2 L994.1 1704.4 L988.8 1707.5 L983.5 1710.6 L978.2 1713.5 L972.7 1716.3 L967.3 1719.1 L961.7 1721.7 L956.2 1724.3 L950.6 1726.8 L944.9 1729.2 L939.3 1731.5 L933.6 1733.7 L927.9 1735.8 L922.2 1737.9 L916.4 1739.9 L910.7 1741.8 L905.0 1743.6 L899.3 1745.3 L893.6 1747.0 L887.9 1748.5" fill="none" stroke="#FF6600" stroke-width="9" stroke-linecap="round" stroke-linejoin="round"/>
<path d="M327.1 1795.2 L330.8 1790.5 L334.5 1785.9 L338.1 1781.2 L341.8 1776.5 L345.4 1771.7 L349.1 1767.0 L352.7 1762.2 L356.4 1757.4 L360.0 1752.6 L363.6 1747.8 L367.3 1743.0 L370.9 1738.1 L374.6 1733.3 L378.2 1728.5 L381.9 1723.6 L385.5 1718.8 L389.2 1713.9 L392.9 1709.1 L396.6 1704.2 L400.3 1699.4 L404.0 1694.5 L407.7 1689.7 L411.5 1684.9 L415.2 1680.1 L419.0 1675.3 L422.8 1670.5 L426.6 1665.7 L430.4 1661.0 L434.3 1656.3 L438.2 1651.6 L442.1 1646.9 L446.0 1642.2 L450.0 1637.6 L453.9 1633.0 L457.9 1628.4 L462.0 1623.9 L466.1 1619.4 L470.2 1614.9 L474.3 1610.5 L478.5 1606.1 L482.7 1601.7 L486.9 1597.4 L491.2 1593.1 L495.5 1588.9 L499.9 1584.7 L504.3 1580.6 L508.7 1576.5 L513.2 1572.5 L517.7 1568.5 L522.3 1564.6 L526.9 1560.7 L531.6 1556.9 L536.3 1553.2 L541.1 1549.5 L545.9 1545.9 L550.8 1542.3 L555.7 1538.8 L560.7 1535.4 L565.7 1532.1 L570.8 1528.8 L576.0 1525.6 L581.2 1522.5 L586.4 1519.4 L591.8 1516.4 L597.2 1513.6 L602.6 1510.8 L608.1 1508.1 L613.6 1505.5 L619.1 1503.0 L624.8 1500.6 L630.4 1498.3 L636.1 1496.1 L641.8 1494.1 L647.6 1492.1 L653.3 1490.3 L659.1 1488.6 L665.0 1487.0 L670.8 1485.6 L676.7 1484.3 L682.6 1483.1 L688.5 1482.1 L694.4 1481.2 L700.4 1480.5 L706.3 1479.9 L712.3 1479.5 L718.2 1479.2 L724.2 1479.1 L730.2 1479.2 L736.1 1479.4 L742.1 1479.8 L748.0 1480.3 L754.0 1480.9 L759.9 1481.8 L765.9 1482.7 L771.8 1483.9 L777.7 1485.1 L783.6 1486.5 L789.4 1488.1 L795.3 1489.8 L801.1 1491.7 L806.9 1493.7 L812.7 1495.9 L818.5 1498.2 L824.2 1500.6 L829.9 1503.2 L835.6 1506.0 L841.2 1508.9 L846.8 1511.9 L852.3 1515.1 L857.8 1518.4 L863.2 1521.8 L868.5 1525.4 L873.7 1529.1 L878.8 1533.0 L883.8 1536.9 L888.6 1541.0 L893.3 1545.2 L897.8 1549.5 L902.1 1553.9 L906.2 1558.5 L910.1 1563.1 L913.7 1567.9 L917.2 1572.8 L920.3 1577.7 L923.3 1582.8 L925.9 1587.9 L928.3 1593.2 L930.3 1598.5 L932.0 1604.0 L933.4 1609.5 L934.5 1615.0 L935.2 1620.7 L935.7 1626.3 L935.8 1632.0 L935.5 1637.7 L935.0 1643.4 L934.1 1649.0 L933.0 1654.6 L931.5 1660.2 L929.7 1665.6 L927.6 1671.0 L925.2 1676.3 L922.5 1681.4 L919.5 1686.4 L916.2 1691.2 L912.7 1695.9 L908.9 1700.5 L904.8 1704.9 L900.5 1709.2 L896.0 1713.3 L891.3 1717.2 L886.4 1721.0 L881.4 1724.7 L876.2 1728.2 L870.8 1731.5 L865.3 1734.7 L859.7 1737.7 L854.0 1740.5 L848.2 1743.2 L842.4 1745.8 L836.5 1748.1 L830.5 1750.4 L824.5 1752.5 L818.4 1754.5 L812.4 1756.4 L806.3 1758.2 L800.2 1759.9 L794.1 1761.5 L788.1 1763.1 L782.1 1764.6 L776.1 1766.0 L770.2 1767.4 L764.4 1768.8 L758.6 1770.1 L752.9 1771.5 L747.3 1772.8 L741.9 1774.2 L736.5 1775.5 L731.3 1776.9 L726.2 1778.3" fill="none" stroke="#92CDDC" stroke-width="9" stroke-linecap="round" stroke-linejoin="round"/>
</g>
<circle cx="324.4" cy="328.0" r="17" fill="#008000"/>
<circle cx="656.8" cy="915.7" r="17" fill="#008000"/>
<circle cx="689.7" cy="1020.8" r="17" fill="#008000"/>
<circle cx="734.9" cy="1477.9" r="17" fill="#008000"/>
<circle cx="1227.7" cy="1349.2" r="21.5" fill="#660066"/>
<circle cx="1188.4" cy="1398.5" r="21.5" fill="#660066"/>
<circle cx="1135.5" cy="1457.4" r="21.5" fill="#660066"/>
<circle cx="1113.9" cy="1484.7" r="21.5" fill="#660066"/>
<circle cx="936.8" cy="1627.6" r="21.5" fill="#660066"/>
<text transform="translate(802.73 365.61) scale(0.9909 0.9898)" x="0" y="0" font-size="68" font-weight="bold" fill="#000">0.345</text>
<text transform="translate(348.53 886.82) scale(0.9892 0.9837)" x="0" y="0" font-size="68" font-weight="bold" fill="#000">0.316943</text>
<text transform="translate(513.54 1208.24) scale(0.9852 0.9592)" x="0" y="0" font-size="68" font-weight="bold" fill="#000">0.31</text>
<polygon points="399.55,466.00 407.46,466.00 407.46,505.38 416.60,505.38 416.60,513.20 387.40,513.20 387.40,505.38 397.51,505.38 397.51,475.92 388.22,480.33 387.40,480.13 387.40,473.92" fill="#000"/>
<polygon points="440.30,459.70 450.40,459.70 429.80,523.70 419.70,523.70" fill="#000"/>
<text transform="translate(451.43 513.01) scale(0.9848 0.9898)" x="0" y="0" font-size="68" font-weight="bold" fill="#000">3</text>
<polygon points="1764.10,275.00 1771.85,275.00 1771.85,314.13 1780.80,314.13 1780.80,321.90 1752.20,321.90 1752.20,314.13 1762.10,314.13 1762.10,284.86 1753.00,289.24 1752.20,289.04 1752.20,282.87" fill="#000"/>
<polygon points="1805.30,268.30 1814.80,268.30 1793.30,332.60 1784.10,332.60" fill="#000"/>
<text transform="translate(1816.20 321.90) scale(0.9485 0.9896)" x="0" y="0" font-size="68" font-weight="bold" fill="#000">2</text>
<polygon points="796.20,1631.90 803.95,1631.90 803.95,1671.53 812.90,1671.53 812.90,1679.40 784.30,1679.40 784.30,1671.53 794.20,1671.53 794.20,1641.88 785.10,1646.32 784.30,1646.12 784.30,1639.87" fill="#000"/>
<polygon points="837.10,1625.40 846.60,1625.40 825.50,1690.10 816.00,1690.10" fill="#000"/>
<text transform="translate(846.85 1679.70) scale(0.9459 1.0043)" x="0" y="0" font-size="68" font-weight="bold" fill="#000">4</text>
<polygon points="1877.20,1452.10 1884.95,1452.10 1884.95,1491.40 1893.90,1491.40 1893.90,1499.20 1865.30,1499.20 1865.30,1491.40 1875.20,1491.40 1875.20,1462.00 1866.10,1466.40 1865.30,1466.20 1865.30,1460.00" fill="#000"/>
</svg></body></html>
